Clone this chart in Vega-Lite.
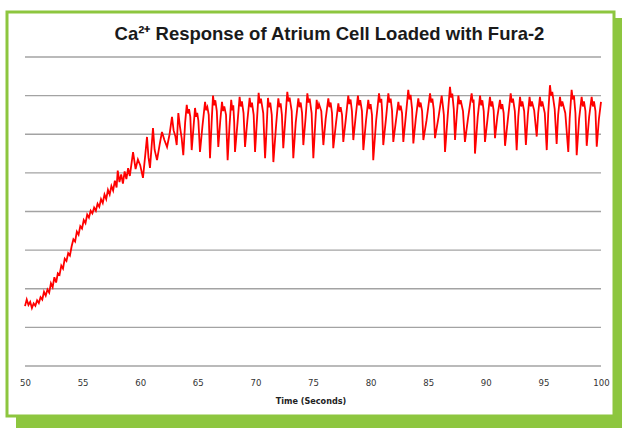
{
  "$schema": "https://vega.github.io/schema/vega-lite/v6.json",
  "autosize": {"type": "none"},
  "width": 607,
  "height": 404,
  "padding": {"left": 7, "top": 12, "right": 10, "bottom": 13},
  "background": "white",
  "view": {"stroke": "#8dc63f", "strokeWidth": 3, "fill": "white"},
  "title": {
    "text": "Ca²⁺ Response of Atrium Cell Loaded with Fura-2",
    "font": "Liberation Sans, Arial, sans-serif",
    "fontSize": 18.5,
    "fontWeight": "bold",
    "color": "#1a1a1a",
    "anchor": "middle",
    "dx": 19,
    "offset": -31
  },
  "layer": [
    {
      "data": {"values": [{}]},
      "mark": {"type": "rect", "color": "#8dc63f"},
      "encoding": {
        "x": {"datum": 101.1285, "type": "quantitative", "scale": {"domain": [48.4375, 101.1285], "nice": false, "zero": false},
          "axis": {"values": [50, 55, 60, 65, 70, 75, 80, 85, 90, 95, 100], "domain": false, "ticks": false, "grid": false, "offset": -40, "labelPadding": 1, "labelFont": "Liberation Sans Narrow, DejaVu Sans Condensed, Lato, sans-serif", "labelFontSize": 9.5, "labelColor": "#333333", "labelFlush": false, "title": "Time (Seconds)", "titleFont": "Liberation Sans Narrow, DejaVu Sans Condensed, Lato, sans-serif", "titleFontSize": 9, "titleFontWeight": "bold", "titleColor": "#222222", "titlePadding": 10}},
        "x2": {"datum": 101.8229},
        "y": {"datum": 9.01, "type": "quantitative", "scale": {"domain": [-1.2945, 9.165], "nice": false, "zero": false}, "axis": null},
        "y2": {"datum": -1.605}
      }
    },
    {
      "data": {"values": [{}]},
      "mark": {"type": "rect", "color": "#8dc63f"},
      "encoding": {
        "x": {"datum": 49.219, "type": "quantitative", "scale": {"domain": [48.4375, 101.1285], "nice": false, "zero": false},
          "axis": {"values": [50, 55, 60, 65, 70, 75, 80, 85, 90, 95, 100], "domain": false, "ticks": false, "grid": false, "offset": -40, "labelPadding": 1, "labelFont": "Liberation Sans Narrow, DejaVu Sans Condensed, Lato, sans-serif", "labelFontSize": 9.5, "labelColor": "#333333", "labelFlush": false, "title": "Time (Seconds)", "titleFont": "Liberation Sans Narrow, DejaVu Sans Condensed, Lato, sans-serif", "titleFontSize": 9, "titleFontWeight": "bold", "titleColor": "#222222", "titlePadding": 10}},
        "x2": {"datum": 101.8229},
        "y": {"datum": -1.2945, "type": "quantitative", "scale": {"domain": [-1.2945, 9.165], "nice": false, "zero": false}, "axis": null},
        "y2": {"datum": -1.605}
      }
    },
    {
      "data": {"values": [{"g": 0}, {"g": 1}, {"g": 2}, {"g": 3}, {"g": 4}, {"g": 5}, {"g": 6}, {"g": 7}, {"g": 8}]},
      "mark": {"type": "rule", "color": "#a3a3a3", "strokeWidth": 1.3},
      "encoding": {
        "x": {"datum": 50, "type": "quantitative", "scale": {"domain": [48.4375, 101.1285], "nice": false, "zero": false},
          "axis": {"values": [50, 55, 60, 65, 70, 75, 80, 85, 90, 95, 100], "domain": false, "ticks": false, "grid": false, "offset": -40, "labelPadding": 1, "labelFont": "Liberation Sans Narrow, DejaVu Sans Condensed, Lato, sans-serif", "labelFontSize": 9.5, "labelColor": "#333333", "labelFlush": false, "title": "Time (Seconds)", "titleFont": "Liberation Sans Narrow, DejaVu Sans Condensed, Lato, sans-serif", "titleFontSize": 9, "titleFontWeight": "bold", "titleColor": "#222222", "titlePadding": 10}},
        "x2": {"datum": 100},
        "y": {"field": "g", "type": "quantitative", "scale": {"domain": [-1.2945, 9.165], "nice": false, "zero": false}, "axis": null}
      }
    },
    {
      "data": {"values": [
        {"t":50,"v":1.55},{"t":50.15,"v":1.72},{"t":50.3,"v":1.58},{"t":50.45,"v":1.66},{"t":50.6,"v":1.5},{"t":50.75,"v":1.62},{"t":50.9,"v":1.56},{"t":51.05,"v":1.7},{"t":51.2,"v":1.63},{"t":51.35,"v":1.78},{"t":51.5,"v":1.72},{"t":51.65,"v":1.92},{"t":51.8,"v":1.82},{"t":51.95,"v":1.98},{"t":52.1,"v":1.9},{"t":52.25,"v":2.14},{"t":52.4,"v":2.04},{"t":52.55,"v":2.3},{"t":52.7,"v":2.16},{"t":52.85,"v":2.4},{"t":53,"v":2.36},{"t":53.15,"v":2.6},{"t":53.3,"v":2.52},{"t":53.45,"v":2.78},{"t":53.6,"v":2.72},{"t":53.75,"v":2.92},{"t":53.9,"v":2.86},{"t":54.05,"v":3.1},{"t":54.2,"v":3.28},{"t":54.35,"v":3.22},{"t":54.5,"v":3.48},{"t":54.65,"v":3.4},{"t":54.8,"v":3.62},{"t":54.95,"v":3.56},{"t":55.1,"v":3.78},{"t":55.25,"v":3.7},{"t":55.4,"v":3.92},{"t":55.55,"v":3.84},{"t":55.7,"v":4.02},{"t":55.85,"v":3.95},{"t":56,"v":4.1},{"t":56.15,"v":4.02},{"t":56.3,"v":4.2},{"t":56.45,"v":4.12},{"t":56.6,"v":4.32},{"t":56.75,"v":4.22},{"t":56.9,"v":4.44},{"t":57.05,"v":4.32},{"t":57.2,"v":4.56},{"t":57.35,"v":4.44},{"t":57.5,"v":4.66},{"t":57.65,"v":4.54},{"t":57.8,"v":4.8},{"t":57.95,"v":4.62},{"t":58.05,"v":5.06},{"t":58.2,"v":4.76},{"t":58.35,"v":4.96},{"t":58.5,"v":4.72},{"t":58.65,"v":5.04},{"t":58.8,"v":4.84},{"t":58.95,"v":5.12},{"t":59.1,"v":4.92},
        {"t":59.38,"v":5.54},{"t":59.6,"v":5.1},{"t":59.8,"v":5.35},{"t":60,"v":5.2},{"t":60.24,"v":4.87},{"t":60.45,"v":5.5},{"t":60.59,"v":5.93},{"t":60.72,"v":5.4},{"t":60.85,"v":5.13},{"t":61.11,"v":6.16},{"t":61.25,"v":5.6},{"t":61.46,"v":5.33},{"t":61.7,"v":5.75},{"t":61.89,"v":6.06},{"t":62.1,"v":5.85},{"t":62.33,"v":5.67},{"t":62.55,"v":6.0},{"t":62.76,"v":6.45},{"t":62.9,"v":6.1},{"t":63.05,"v":5.95},{"t":63.17,"v":5.72},{"t":63.31,"v":6.55},{"t":63.45,"v":6.2},{"t":63.6,"v":5.9},{"t":63.74,"v":5.46},{"t":63.9,"v":6.3},{"t":64.04,"v":6.76},
        {"t":64.14,"v":6.54},{"t":64.24,"v":6.65},{"t":64.35,"v":6.45},{"t":64.47,"v":5.59},
        {"t":64.76,"v":6.68},{"t":64.86,"v":6.45},{"t":64.95,"v":6.55},{"t":65.05,"v":6.35},{"t":65.19,"v":5.54},
        {"t":65.4,"v":6.2},{"t":65.63,"v":6.84},{"t":65.73,"v":6.62},{"t":65.83,"v":6.7},{"t":65.95,"v":6.5},{"t":66.06,"v":5.38},
        {"t":66.2,"v":6.3},{"t":66.32,"v":7.0},{"t":66.42,"v":6.75},{"t":66.52,"v":6.88},{"t":66.65,"v":6.6},{"t":66.78,"v":5.67},
        {"t":66.95,"v":6.35},{"t":67.1,"v":6.84},{"t":67.2,"v":6.6},{"t":67.3,"v":6.72},{"t":67.45,"v":6.5},{"t":67.59,"v":5.33},
        {"t":67.75,"v":6.2},{"t":67.9,"v":6.89},{"t":68.0,"v":6.62},{"t":68.08,"v":6.75},{"t":68.16,"v":6.3},{"t":68.23,"v":5.54},
        {"t":68.45,"v":6.3},{"t":68.63,"v":6.97},{"t":68.73,"v":6.72},{"t":68.83,"v":6.85},{"t":68.97,"v":6.55},{"t":69.1,"v":5.67},
        {"t":69.3,"v":6.35},{"t":69.5,"v":6.94},{"t":69.6,"v":6.7},{"t":69.7,"v":6.82},{"t":69.85,"v":6.5},{"t":69.97,"v":5.54},
        {"t":70.12,"v":6.3},{"t":70.28,"v":7.07},{"t":70.38,"v":6.8},{"t":70.48,"v":6.92},{"t":70.68,"v":6.55},{"t":70.84,"v":5.38},
        {"t":70.98,"v":6.2},{"t":71.09,"v":6.94},{"t":71.19,"v":6.7},{"t":71.29,"v":6.82},{"t":71.42,"v":6.5},{"t":71.56,"v":5.28},
        {"t":71.8,"v":6.25},{"t":71.99,"v":6.93},{"t":72.09,"v":6.7},{"t":72.19,"v":6.8},{"t":72.3,"v":6.5},{"t":72.42,"v":5.64},
        {"t":72.6,"v":6.4},{"t":72.77,"v":7.1},{"t":72.87,"v":6.85},{"t":72.97,"v":6.95},{"t":73.15,"v":6.6},{"t":73.29,"v":5.38},
        {"t":73.5,"v":6.3},{"t":73.73,"v":6.93},{"t":73.83,"v":6.7},{"t":73.93,"v":6.82},{"t":74.05,"v":6.55},{"t":74.16,"v":5.72},
        {"t":74.35,"v":6.4},{"t":74.51,"v":7.06},{"t":74.61,"v":6.82},{"t":74.71,"v":6.92},{"t":74.88,"v":6.55},{"t":75.03,"v":5.38},
        {"t":75.2,"v":6.3},{"t":75.32,"v":6.89},{"t":75.42,"v":6.65},{"t":75.52,"v":6.78},{"t":75.72,"v":6.6},{"t":75.9,"v":5.72},
        {"t":76.1,"v":6.4},{"t":76.33,"v":6.93},{"t":76.43,"v":6.7},{"t":76.53,"v":6.82},{"t":76.65,"v":6.55},{"t":76.76,"v":5.64},
        {"t":77.0,"v":6.3},{"t":77.2,"v":6.8},{"t":77.3,"v":6.58},{"t":77.4,"v":6.7},{"t":77.52,"v":6.5},{"t":77.63,"v":5.8},
        {"t":77.85,"v":6.4},{"t":78.06,"v":7.0},{"t":78.16,"v":6.78},{"t":78.26,"v":6.9},{"t":78.38,"v":6.6},{"t":78.5,"v":5.85},
        {"t":78.7,"v":6.45},{"t":78.9,"v":7.0},{"t":79.0,"v":6.75},{"t":79.1,"v":6.88},{"t":79.25,"v":6.6},{"t":79.37,"v":5.59},
        {"t":79.6,"v":6.35},{"t":79.8,"v":6.89},{"t":79.9,"v":6.65},{"t":80.0,"v":6.78},{"t":80.12,"v":6.5},{"t":80.23,"v":5.33},
        {"t":80.48,"v":6.35},{"t":80.73,"v":7.06},{"t":80.83,"v":6.82},{"t":80.93,"v":6.92},{"t":81.0,"v":6.6},{"t":81.1,"v":5.72},
        {"t":81.35,"v":6.45},{"t":81.54,"v":7.06},{"t":81.64,"v":6.82},{"t":81.74,"v":6.92},{"t":81.86,"v":6.62},{"t":81.97,"v":5.8},
        {"t":82.2,"v":6.35},{"t":82.41,"v":6.84},{"t":82.51,"v":6.62},{"t":82.61,"v":6.74},{"t":82.73,"v":6.55},{"t":82.84,"v":5.8},
        {"t":83.05,"v":6.45},{"t":83.27,"v":7.15},{"t":83.37,"v":6.9},{"t":83.47,"v":7.02},{"t":83.6,"v":6.65},{"t":83.71,"v":5.76},
        {"t":83.92,"v":6.4},{"t":84.14,"v":6.93},{"t":84.24,"v":6.7},{"t":84.34,"v":6.82},{"t":84.47,"v":6.6},{"t":84.58,"v":5.85},
        {"t":84.85,"v":6.35},{"t":85.16,"v":7.06},{"t":85.26,"v":6.82},{"t":85.36,"v":6.92},{"t":85.48,"v":6.65},{"t":85.59,"v":5.9},
        {"t":85.9,"v":6.45},{"t":86.17,"v":7.0},{"t":86.27,"v":6.75},{"t":86.36,"v":6.5},{"t":86.46,"v":5.54},
        {"t":86.7,"v":6.5},{"t":86.89,"v":7.23},{"t":86.99,"v":6.95},{"t":87.09,"v":7.05},{"t":87.22,"v":6.65},{"t":87.33,"v":5.85},
        {"t":87.48,"v":6.5},{"t":87.62,"v":7.0},{"t":87.72,"v":6.78},{"t":87.82,"v":6.88},{"t":88.02,"v":6.6},{"t":88.19,"v":5.8},
        {"t":88.45,"v":6.4},{"t":88.77,"v":7.06},{"t":88.87,"v":6.82},{"t":88.94,"v":6.9},{"t":89.0,"v":6.45},{"t":89.06,"v":5.5},
        {"t":89.3,"v":6.45},{"t":89.5,"v":7.0},{"t":89.6,"v":6.75},{"t":89.7,"v":6.88},{"t":89.82,"v":6.6},{"t":89.93,"v":5.8},
        {"t":90.15,"v":6.4},{"t":90.36,"v":6.97},{"t":90.46,"v":6.72},{"t":90.56,"v":6.85},{"t":90.68,"v":6.62},{"t":90.8,"v":5.9},
        {"t":91.0,"v":6.45},{"t":91.23,"v":6.89},{"t":91.33,"v":6.65},{"t":91.43,"v":6.78},{"t":91.55,"v":6.55},{"t":91.67,"v":5.7},
        {"t":91.92,"v":6.4},{"t":92.16,"v":7.06},{"t":92.26,"v":6.82},{"t":92.36,"v":6.92},{"t":92.52,"v":6.6},{"t":92.68,"v":5.59},
        {"t":92.82,"v":6.45},{"t":92.97,"v":6.97},{"t":93.07,"v":6.72},{"t":93.17,"v":6.85},{"t":93.33,"v":6.6},{"t":93.48,"v":5.72},
        {"t":93.65,"v":6.5},{"t":93.8,"v":6.97},{"t":93.9,"v":6.72},{"t":94.0,"v":6.85},{"t":94.2,"v":6.62},{"t":94.42,"v":5.94},
        {"t":94.55,"v":6.55},{"t":94.7,"v":6.97},{"t":94.8,"v":6.72},{"t":94.9,"v":6.85},{"t":95.12,"v":6.55},{"t":95.29,"v":5.59},
        {"t":95.42,"v":6.55},{"t":95.57,"v":7.27},{"t":95.67,"v":7.0},{"t":95.77,"v":7.1},{"t":95.98,"v":6.65},{"t":96.15,"v":5.75},
        {"t":96.28,"v":6.5},{"t":96.44,"v":6.97},{"t":96.54,"v":6.72},{"t":96.64,"v":6.85},{"t":96.9,"v":6.55},{"t":97.16,"v":5.54},
        {"t":97.28,"v":6.4},{"t":97.45,"v":7.15},{"t":97.55,"v":6.9},{"t":97.65,"v":7.0},{"t":97.78,"v":6.55},{"t":97.89,"v":5.46},
        {"t":98.1,"v":6.4},{"t":98.32,"v":6.97},{"t":98.42,"v":6.72},{"t":98.52,"v":6.85},{"t":98.65,"v":6.6},{"t":98.76,"v":5.7},
        {"t":98.97,"v":6.45},{"t":99.19,"v":6.97},{"t":99.29,"v":6.72},{"t":99.39,"v":6.85},{"t":99.52,"v":6.6},{"t":99.63,"v":5.68},
        {"t":99.82,"v":6.4},{"t":100,"v":6.84}
      ]},
      "mark": {"type": "line", "color": "#ff0000", "strokeWidth": 1.8},
      "encoding": {
        "x": {
          "field": "t", "type": "quantitative",
          "scale": {"domain": [48.4375, 101.1285], "nice": false, "zero": false},
          "axis": {"values": [50, 55, 60, 65, 70, 75, 80, 85, 90, 95, 100], "domain": false, "ticks": false, "grid": false, "offset": -40, "labelPadding": 1, "labelFont": "Liberation Sans Narrow, DejaVu Sans Condensed, Lato, sans-serif", "labelFontSize": 9.5, "labelColor": "#333333", "labelFlush": false, "title": "Time (Seconds)", "titleFont": "Liberation Sans Narrow, DejaVu Sans Condensed, Lato, sans-serif", "titleFontSize": 9, "titleFontWeight": "bold", "titleColor": "#222222", "titlePadding": 10}
        },
        "y": {"field": "v", "type": "quantitative", "scale": {"domain": [-1.2945, 9.165], "nice": false, "zero": false}, "axis": null}
      }
    }
  ]
}
